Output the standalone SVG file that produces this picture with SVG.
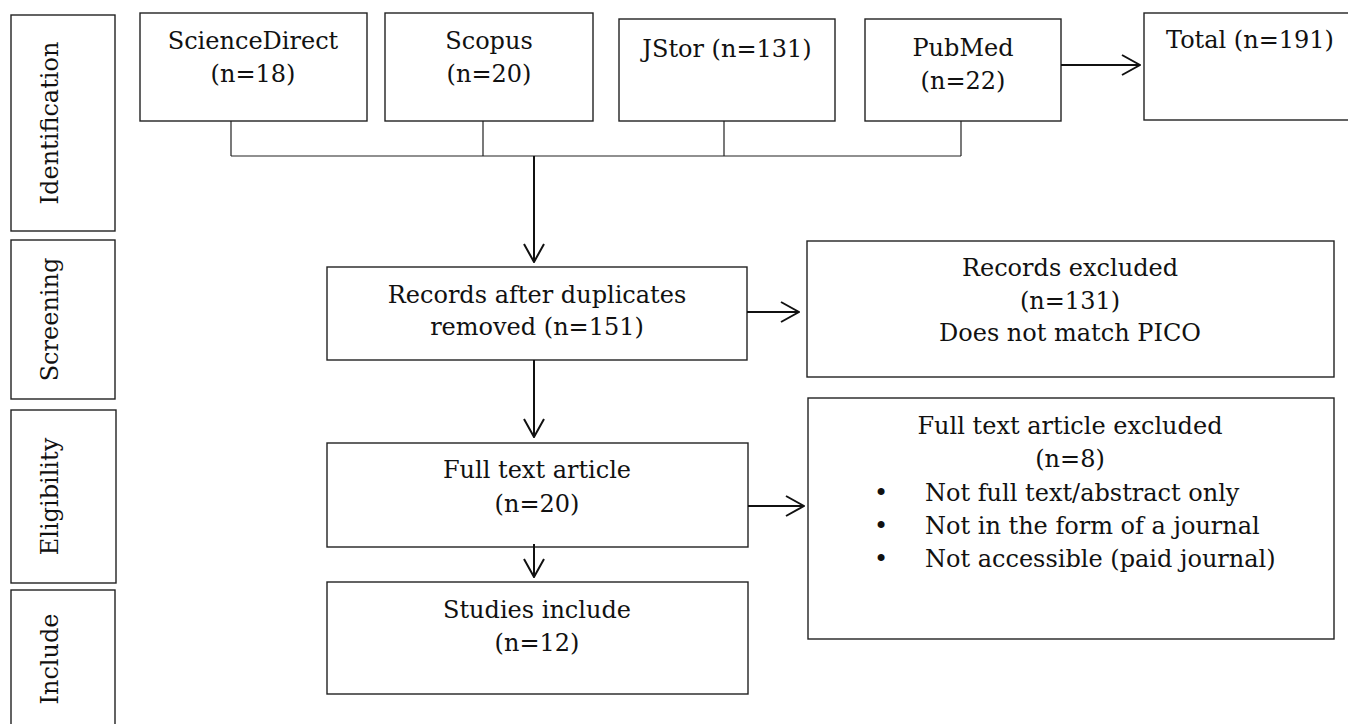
<svg xmlns="http://www.w3.org/2000/svg" width="1348" height="724" viewBox="0 0 1348 724">
<defs>
<style>
.box{fill:#fff;stroke:#222;stroke-width:1.4}
.t{font-family:"DejaVu Serif","Liberation Serif",serif;font-size:24px;fill:#111;text-anchor:middle}
.tl{font-family:"DejaVu Serif","Liberation Serif",serif;font-size:24px;fill:#111;text-anchor:start}
.thin{stroke:#222;stroke-width:1.2;fill:none}
.arr{stroke:#111;stroke-width:2;fill:none}
</style>
<marker id="ah" viewBox="0 0 20 22" refX="19" refY="11" markerWidth="20" markerHeight="22" markerUnits="userSpaceOnUse" orient="auto">
<path d="M1,1 L19,11 L1,21" fill="none" stroke="#111" stroke-width="2"/>
</marker>
</defs>
<rect width="1348" height="724" fill="#fff"/>

<g id="stage-identification">
<rect class="box" x="11" y="15" width="104" height="216"/>
<text class="t" transform="translate(58,123) rotate(-90)">Identification</text>
</g>
<g id="stage-screening">
<rect class="box" x="11" y="240" width="104" height="159"/>
<text class="t" transform="translate(58,319.5) rotate(-90)">Screening</text>
</g>
<g id="stage-eligibility">
<rect class="box" x="11" y="410" width="105" height="173"/>
<text class="t" transform="translate(58,496.5) rotate(-90)">Eligibility</text>
</g>
<g id="stage-include">
<rect class="box" x="11" y="590" width="104" height="140"/>
<text class="t" transform="translate(58,659) rotate(-90)">Include</text>
</g>

<g id="sciencedirect">
<rect class="box" x="140" y="13" width="227" height="108"/>
<text class="t" x="253" y="49">ScienceDirect</text>
<text class="t" x="253" y="82">(n=18)</text>
</g>
<g id="scopus">
<rect class="box" x="385" y="13" width="208" height="108"/>
<text class="t" x="489" y="49">Scopus</text>
<text class="t" x="489" y="82">(n=20)</text>
</g>
<g id="jstor">
<rect class="box" x="619" y="19" width="216" height="102"/>
<text class="t" x="727" y="57">JStor (n=131)</text>
</g>
<g id="pubmed">
<rect class="box" x="865" y="19" width="196" height="102"/>
<text class="t" x="963" y="56">PubMed</text>
<text class="t" x="963" y="89">(n=22)</text>
</g>
<g id="total">
<rect class="box" x="1144" y="13" width="212" height="107"/>
<text class="t" x="1250" y="48">Total (n=191)</text>
</g>

<g id="records-after-duplicates">
<rect class="box" x="327" y="267" width="420" height="93"/>
<text class="t" x="537" y="303">Records after duplicates</text>
<text class="t" x="537" y="335">removed (n=151)</text>
</g>
<g id="records-excluded">
<rect class="box" x="807" y="241" width="527" height="136"/>
<text class="t" x="1070" y="276">Records excluded</text>
<text class="t" x="1070" y="309">(n=131)</text>
<text class="t" x="1070" y="341">Does not match PICO</text>
</g>
<g id="full-text-article">
<rect class="box" x="327" y="443" width="421" height="104"/>
<text class="t" x="537" y="478">Full text article</text>
<text class="t" x="537" y="512">(n=20)</text>
</g>
<g id="full-text-excluded">
<rect class="box" x="808" y="398" width="526" height="241"/>
<text class="t" x="1070" y="434">Full text article excluded</text>
<text class="t" x="1070" y="467">(n=8)</text>
<text class="tl" x="874" y="501">•</text>
<text class="tl" x="925" y="501">Not full text/abstract only</text>
<text class="tl" x="874" y="534">•</text>
<text class="tl" x="925" y="534">Not in the form of a journal</text>
<text class="tl" x="874" y="567">•</text>
<text class="tl" x="925" y="567">Not accessible (paid journal)</text>
</g>
<g id="studies-include">
<rect class="box" x="327" y="582" width="421" height="112"/>
<text class="t" x="537" y="618">Studies include</text>
<text class="t" x="537" y="651">(n=12)</text>
</g>

<g id="connectors">
<path class="thin" d="M231,121 V156 M483,121 V156 M724,121 V156 M961,121 V156 M231,156 H961"/>
<path class="arr" d="M534,156 V262" marker-end="url(#ah)"/>
<path class="arr" d="M1061,65 H1140" marker-end="url(#ah)"/>
<path class="arr" d="M534,360 V437" marker-end="url(#ah)"/>
<path class="arr" d="M747,312 H799" marker-end="url(#ah)"/>
<path class="arr" d="M534,544 V577" marker-end="url(#ah)"/>
<path class="arr" d="M748,506 H804" marker-end="url(#ah)"/>
</g>
</svg>
